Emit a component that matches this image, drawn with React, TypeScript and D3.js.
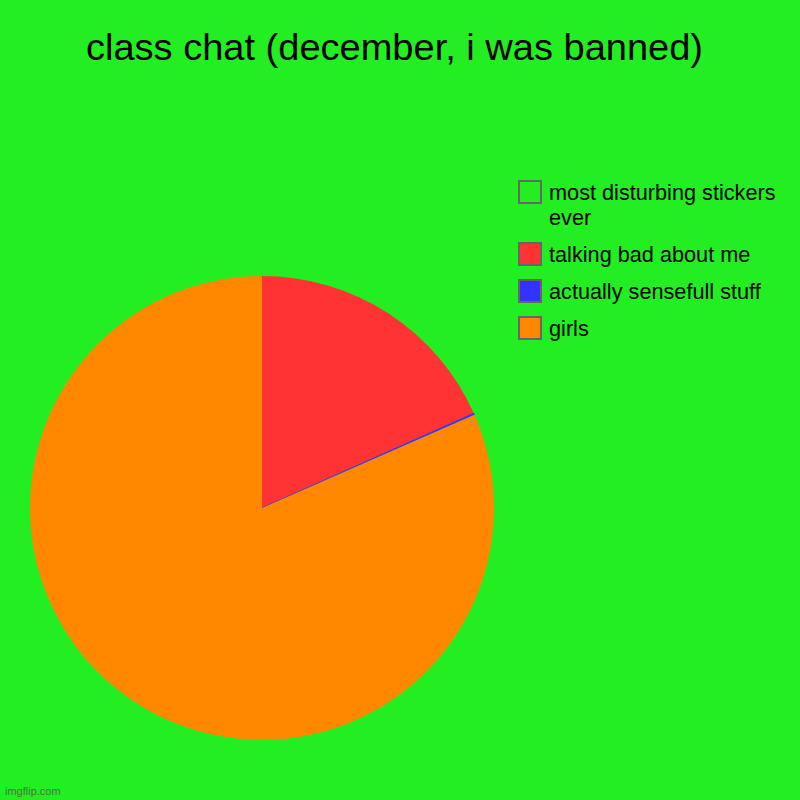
import React from "react";
import * as d3 from "d3";

const labels = ["most disturbing stickers ever", "talking bad about me", "actually sensefull stuff", "girls"];
const legendLines = [["most disturbing stickers", "ever"], ["talking bad about me"], ["actually sensefull stuff"], ["girls"]];
const values = [0, 18.3, 0.12, 81.58];
const colors = ["#22ee22", "#ff3333", "#3333ff", "#ff8800"];
const title = "class chat (december, i was banned)";

export default function App() {
  const W = 800, H = 800;
  const cx = 262, cy = 508, r = 232;
  const pie = d3.pie<number>().sort(null).value((d) => d)(values);
  const arc = d3.arc<d3.PieArcDatum<number>>().innerRadius(0).outerRadius(r);
  const rowTops = [180, 242, 279, 316];
  return (
    <svg width={W} height={H} style={{ position: "absolute", left: 0, top: 0 }} fontFamily="'Liberation Sans', Arial, sans-serif">
      <rect x={0} y={0} width={W} height={H} fill="#22ee22" />
      <text x={394.5} y={60} textAnchor="middle" fontSize={36} fill="#000" textLength={617} lengthAdjust="spacingAndGlyphs">{title}</text>
      <g transform={`translate(${cx},${cy})`}>
        {pie.map((p, i) => (
          <path key={i} d={arc(p) || ""} fill={colors[i]} stroke={i === 2 ? colors[i] : "none"} strokeWidth={i === 2 ? 0.8 : 0} />
        ))}
      </g>
      {labels.map((l, i) => (
        <g key={l}>
          <rect x={519} y={rowTops[i] + 1} width={22} height={22} fill={colors[i]} stroke="#666" strokeWidth={2} />
          {legendLines[i].map((t, j) => (
            <text key={j} x={549} y={rowTops[i] + 20 + j * 25} fontSize={21.7} fill="#000">{t}</text>
          ))}
        </g>
      ))}
      <text x={5} y={795} fontSize={11} fill="#555" opacity={0.8}>imgflip.com</text>
    </svg>
  );
}
